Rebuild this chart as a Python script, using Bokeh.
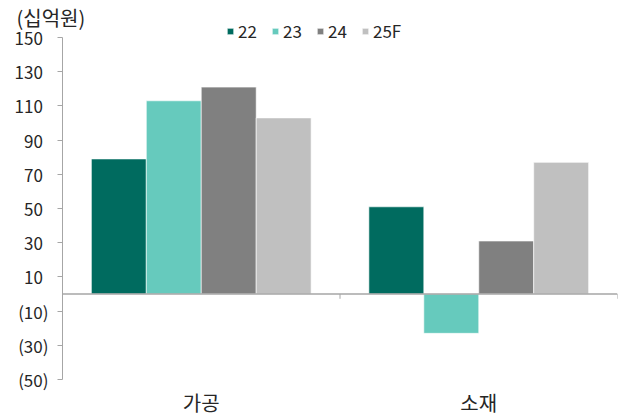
from bokeh.plotting import figure
from bokeh.models import FactorRange, ColumnDataSource, FixedTicker, Span, Legend, LegendItem
from bokeh.transform import dodge
from bokeh.embed import file_html
from bokeh.resources import INLINE

categories = ["가공", "소재"]
series = ["22", "23", "24", "25F"]
v22 = [79, 51]
v23 = [113, -23]
v24 = [121, 31]
v25 = [103, 77]
yticks = [150, 130, 110, 90, 70, 50, 30, 10, -10, -30, -50]

colors = ["#006B5F", "#66CABD", "#808080", "#C0C0C0"]
FONT = "Noto Sans CJK KR"
TXT = "#262626"
AX = "#A6A6A6"

src = ColumnDataSource(dict(cat=categories, s22=v22, s23=v23, s24=v24, s25=v25))

p = figure(width=620, height=419, output_backend="svg", toolbar_location=None,
           x_range=FactorRange(factors=categories, range_padding=0),
           y_range=(-50, 162.3), min_border_left=62, min_border_right=3,
           min_border_top=16, min_border_bottom=40)
p.outline_line_color = None
p.xgrid.visible = False
p.ygrid.visible = False

p.title.text = "(십억원)"
p.title.text_font = FONT
p.title.text_font_size = "20px"
p.title.text_font_style = "normal"
p.title.text_color = TXT
p.title.align = "left"
p.title.offset = -46
p.title.standoff = -30

offsets = [-0.297, -0.099, 0.099, 0.297]
cols = ["s22", "s23", "s24", "s25"]
renderers = []
for off, c, col in zip(offsets, cols, colors):
    r = p.vbar(x=dodge("cat", off, range=p.x_range), top=c, bottom=0, width=0.198,
               source=src, fill_color=col, line_color="white", line_width=0.6)
    renderers.append(r)

p.add_layout(Span(location=0, dimension="width", line_color=AX, line_width=1.5))
p.segment(x0=[1, 2], y0=[0, 0], x1=[1, 2], y1=[-2.8, -2.8], line_color=AX, line_width=1)

SP = "\u2004"
ya = p.yaxis[0]
ya.ticker = FixedTicker(ticks=yticks)
ya.bounds = (-50, 150)
ya.major_label_overrides = {t: (f"({-t})" if t < 0 else f"{t}{SP}") for t in yticks}
ya.axis_line_color = AX
ya.major_tick_line_color = AX
ya.major_tick_out = 5
ya.major_tick_in = 0
ya.minor_tick_line_color = None
ya.major_label_standoff = 9
ya.major_label_text_font = FONT
ya.major_label_text_font_size = "17px"
ya.major_label_text_color = TXT

xa = p.xaxis[0]
xa.axis_line_color = None
xa.major_tick_line_color = None
xa.major_tick_out = 0
xa.minor_tick_line_color = None
xa.major_label_standoff = 8
xa.major_label_text_font = FONT
xa.major_label_text_font_size = "20px"
xa.major_label_text_color = TXT

legend = Legend(items=[LegendItem(label=s, renderers=[r]) for s, r in zip(series, renderers)],
                orientation="horizontal", location=(164, 336),
                glyph_width=8, glyph_height=8, label_standoff=4, spacing=13,
                padding=0, margin=0, border_line_color=None, background_fill_alpha=0,
                label_text_font=FONT, label_text_font_size="17px", label_text_color=TXT)
p.add_layout(legend)

open("out.html", "w").write(file_html(p, INLINE))
